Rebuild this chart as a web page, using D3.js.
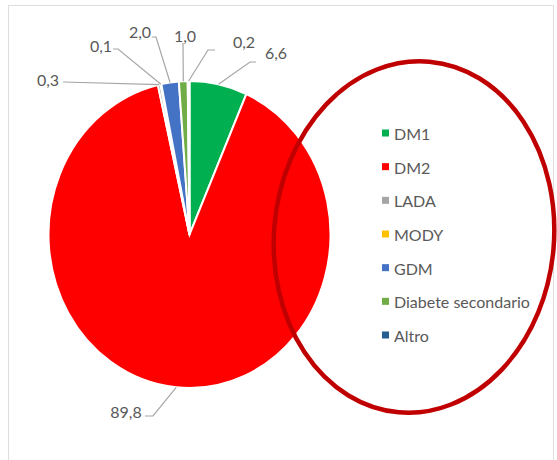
<!DOCTYPE html>
<html>
<head>
<meta charset="utf-8">
<script src="https://cdn.jsdelivr.net/npm/d3@7"></script>
<style>
  html, body { margin: 0; padding: 0; background: #fff; }
  svg { display: block; }
  text { font-family: Lato, "Open Sans", sans-serif; fill: #595959; }
</style>
</head>
<body>
<svg id="chart" width="557" height="460"></svg>
<script>
// Tipi di diabete (%)
const categories = ["DM1", "DM2", "LADA", "MODY", "GDM", "Diabete secondario", "Altro"];
const values = [6.6, 89.8, 0.3, 0.1, 2.0, 1.0, 0.2];
const valueLabels = ["6,6", "89,8", "0,3", "0,1", "2,0", "1,0", "0,2"];
const colors = ["#00B050", "#FF0000", "#A5A5A5", "#FFC000", "#4472C4", "#70AD47", "#255E91"];

// Label placement: text centre and the elbow of each leader line
const labelLayout = [
  { tx: 276, ty: 52,  leader: [[256, 62], [250, 62]] },
  { tx: 126, ty: 411, leader: [[145, 416], [153, 416]] },
  { tx: 48,  ty: 79,  leader: [[63, 82], [63, 82]] },
  { tx: 101, ty: 45,  leader: [[113, 49], [118, 49]] },
  { tx: 140, ty: 31,  leader: [[152, 37], [156, 37]] },
  { tx: 185, ty: 35,  leader: [[183, 43], [183, 43]] },
  { tx: 244, ty: 41,  leader: [[215, 50], [208, 50]] }
];

const W = 557, H = 460;
const cx = 189.5, cy = 234.5, rx = 141, ry = 153.5;

const svg = d3.select("#chart");

// chart frame
svg.append("rect")
  .attr("x", 8.5).attr("y", 5.5)
  .attr("width", 545).attr("height", 470)
  .attr("fill", "none").attr("stroke", "#DEDEDE").attr("stroke-width", 1);

const pie = d3.pie().sort(null).value(d => d);
const arcs = pie(values);
const arc = d3.arc().innerRadius(0).outerRadius(rx);

const g = svg.append("g")
  .attr("transform", `translate(${cx},${cy}) scale(1,${ry / rx})`);

g.selectAll("path.slice")
  .data(arcs)
  .join("path")
  .attr("class", "slice")
  .attr("d", arc)
  .attr("fill", (d, i) => colors[i])
  .attr("stroke", "#fff")
  .attr("stroke-width", 2)
  .attr("vector-effect", "non-scaling-stroke");

// point on the pie rim at a slice's mid angle
function rimPoint(d) {
  const a = (d.startAngle + d.endAngle) / 2;
  return [cx + rx * Math.sin(a), cy - ry * Math.cos(a)];
}

const line = d3.line();
svg.selectAll("path.leader")
  .data(arcs)
  .join("path")
  .attr("class", "leader")
  .attr("d", (d, i) => line([...labelLayout[i].leader, rimPoint(d)]))
  .attr("fill", "none")
  .attr("stroke", "#A6A6A6")
  .attr("stroke-width", 1.2);

svg.selectAll("text.val")
  .data(arcs)
  .join("text")
  .attr("class", "val")
  .attr("x", (d, i) => labelLayout[i].tx)
  .attr("y", (d, i) => labelLayout[i].ty)
  .attr("text-anchor", "middle")
  .attr("dominant-baseline", "central")
  .style("font-size", "16px")
  .text((d, i) => valueLabels[i]);

// legend
const legendY = d3.scalePoint().domain(categories).range([133, 335]);
const lg = svg.append("g");
const items = lg.selectAll("g.item")
  .data(categories)
  .join("g")
  .attr("class", "item")
  .attr("transform", d => `translate(382,${legendY(d)})`);
items.append("rect")
  .attr("x", 0).attr("y", -3.5)
  .attr("width", 7).attr("height", 7)
  .attr("fill", (d, i) => colors[i]);
items.append("text")
  .attr("x", 12).attr("y", 0.5)
  .attr("dominant-baseline", "central")
  .style("font-size", "16px")
  .text(d => d);

// highlight ellipse around the legend
svg.append("ellipse")
  .attr("cx", 414).attr("cy", 237)
  .attr("rx", 140).attr("ry", 176)
  .attr("transform", "rotate(5 414 237)")
  .attr("fill", "none")
  .attr("stroke", "#C00000")
  .attr("stroke-width", 4.5);
</script>
</body>
</html>
